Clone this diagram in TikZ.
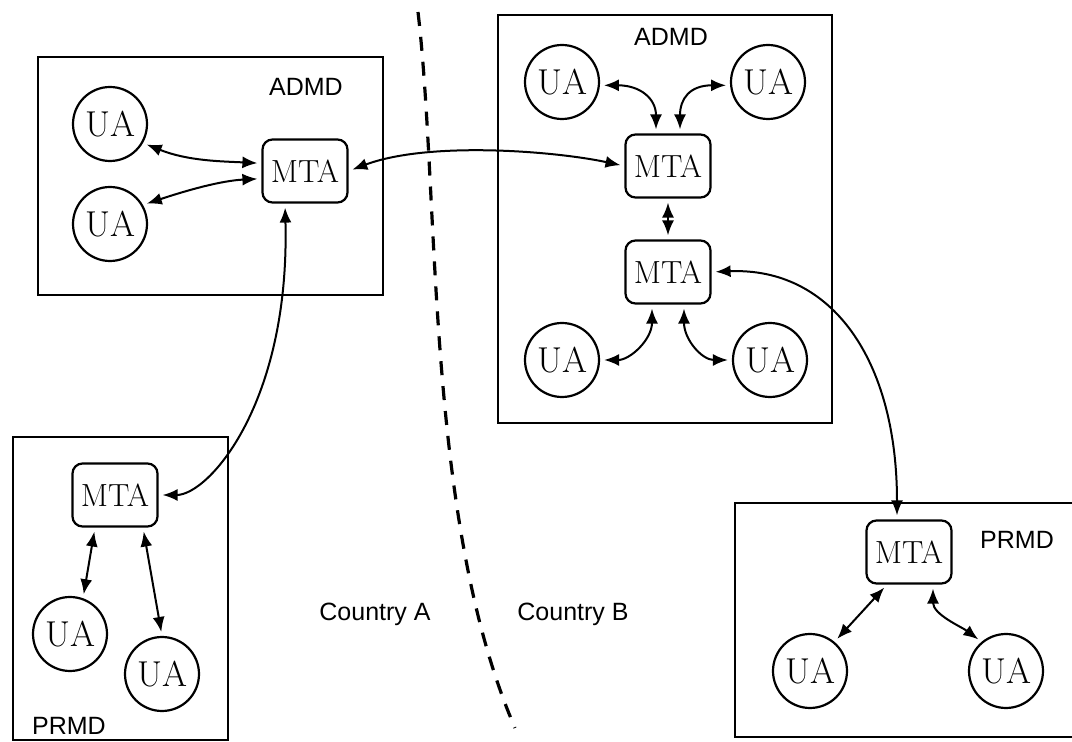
\documentclass[tikz,border=0pt]{standalone}
\usepackage{fontspec}
\newfontfamily\tagfont{Liberation Sans}
\usetikzlibrary{arrows.meta}

\begin{document}
\begin{tikzpicture}[
  x=0.5pt,y=-0.5pt,
  ua/.style={draw,circle,line width=1.1pt,minimum size=37pt,inner sep=0pt,font=\fontsize{18}{20}\selectfont},
  mta/.style={draw,rounded corners=5pt,line width=1.1pt,minimum width=42.5pt,minimum height=31.5pt,inner sep=0pt,font=\fontsize{16}{20}\selectfont},
  mdbox/.style={draw,line width=1.4pt},
  tag/.style={font=\tagfont\fontsize{12.5}{14}\selectfont},
  link/.style={{Latex[length=7.5pt,width=6pt]}-{Latex[length=7.5pt,width=6pt]},line width=1pt,shorten <=2pt,shorten >=2pt},
  border/.style={line width=1.6pt,dash pattern=on 7pt off 5.5pt},
]
\useasboundingbox (0,0) rectangle (1072,742);

\draw[mdbox] (38,57) rectangle (383,295);
\node[tag] (admdA) at (306,87) {ADMD};
\node[ua] (uaA1) at (110,124) {UA};
\node[ua] (uaA2) at (110,224) {UA};
\node[mta] (mtaA) at (305,171) {MTA};

\draw[mdbox] (498,15) rectangle (832,423);
\node[tag] (admdB) at (671,37) {ADMD};
\node[ua] (uaB1) at (562,82) {UA};
\node[ua] (uaB2) at (768,82) {UA};
\node[mta] (mtaB1) at (668,166) {MTA};
\node[mta] (mtaB2) at (668,272) {MTA};
\node[ua] (uaB3) at (562,360) {UA};
\node[ua] (uaB4) at (770,360) {UA};

\draw[mdbox] (13,437) rectangle (228,740);
\node[tag] (prmdA) at (69,726) {PRMD};
\node[mta] (mtaC) at (115,495) {MTA};
\node[ua] (uaC1) at (70,634) {UA};
\node[ua] (uaC2) at (162,674) {UA};

\draw[mdbox] (735,503) rectangle (1090,737);
\node[tag] (prmdB) at (1017,540) {PRMD};
\node[mta] (mtaD) at (909,552) {MTA};
\node[ua] (uaD1) at (810,671) {UA};
\node[ua] (uaD2) at (1006,671) {UA};

\draw[link] (uaA1.-30) .. controls +(45,18) and +(-40,-2) .. (mtaA.170);
\draw[link] (uaA2.30) .. controls +(45,-15) and +(-40,2) .. (mtaA.190);

\draw[link] (uaB1.-5) .. controls +(40,0) and +(0,-35) .. ([xshift=-6pt]mtaB1.north);
\draw[link] (uaB2.185) .. controls +(-40,0) and +(0,-35) .. ([xshift=6pt]mtaB1.north);
\draw[link] (mtaB1) -- (mtaB2);
\draw[link] ([xshift=-8pt]mtaB2.south) .. controls +(0,35) and +(30,0) .. (uaB3.east);
\draw[link] ([xshift=8pt]mtaB2.south) .. controls +(0,35) and +(-30,0) .. (uaB4.west);

\draw[link] ([xshift=-10pt]mtaC.south) -- (uaC1.70);
\draw[link] ([xshift=14pt]mtaC.south) -- (uaC2.north);

\draw[link] ([xshift=-11pt]mtaD.south) -- (uaD1.50);
\draw[link] ([xshift=12pt]mtaD.south) .. controls +(0,30) and +(-20,-15) .. (uaD2.130);

\draw[link] (mtaA.east) .. controls +(80,-30) and +(-70,-15) .. (mtaB1.west);
\draw[link] ([xshift=-10pt]mtaA.south) .. controls +(5,200) and +(50,0) .. (mtaC.east);
\draw[link] (mtaB2.east) .. controls +(120,-5) and +(0,-160) .. ([xshift=-6pt]mtaD.north);

\draw[border] (418,12) .. controls (440,200) and (425,520) .. (515,728);
\node[tag] (cntA) at (375,614) {Country A};
\node[tag] (cntB) at (573,614) {Country B};
\end{tikzpicture}
\end{document}
